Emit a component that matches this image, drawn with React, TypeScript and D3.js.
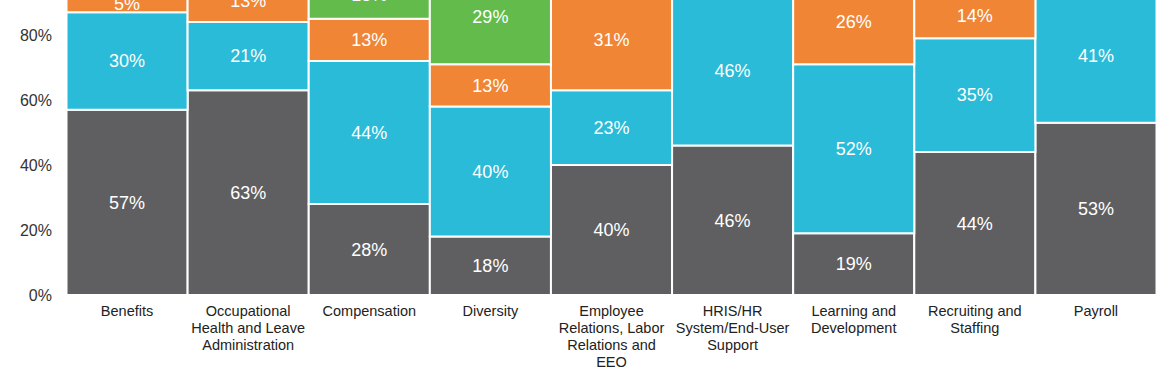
import React from "react";
import * as d3 from "d3";

const categories = [
  "Benefits",
  "Occupational\nHealth and Leave\nAdministration",
  "Compensation",
  "Diversity",
  "Employee\nRelations, Labor\nRelations and\nEEO",
  "HRIS/HR\nSystem/End-User\nSupport",
  "Learning and\nDevelopment",
  "Recruiting and\nStaffing",
  "Payroll",
];
const seriesKeys = ["dark", "cyan", "orange", "green"];
const darkValues = [57, 63, 28, 18, 40, 46, 19, 44, 53];
const cyanValues = [30, 21, 44, 40, 23, 46, 52, 35, 41];
const orangeValues = [5, 13, 13, 13, 31, 0, 26, 14, 0];
const greenValues = [8, 3, 15, 29, 6, 8, 3, 7, 6];
const yTicks = [0, 20, 40, 60, 80, 100];
const colors: Record<string, string> = {
  dark: "#5f5f61",
  cyan: "#29bbd7",
  orange: "#ef8535",
  green: "#62bb4a",
};

export default function App() {
  React.useEffect(() => {
    document.body.style.margin = "0";
  }, []);
  const W = 1175, H = 375;
  const x = d3.scaleBand<string>().domain(categories).range([66.5, 1156.5]).padding(0);
  const y = d3.scaleLinear().domain([0, 100]).range([295, -30]);
  const rows = categories.map((c, i) => ({
    cat: c,
    dark: darkValues[i],
    cyan: cyanValues[i],
    orange: orangeValues[i],
    green: greenValues[i],
  }));
  const stack = d3.stack<any>().keys(seriesKeys)(rows);
  const font = "'Liberation Sans', Arial, sans-serif";
  return (
    <svg width={W} height={H} style={{ display: "block", position: "absolute", left: 0, top: 0 }}>
      <rect width={W} height={H} fill="#fff" />
      {yTicks.map((t) => (
        <text key={t} x={52} y={y(t)} dy="0.35em" textAnchor="end" fontFamily={font} fontSize={16} fill="#333">
          {t}%
        </text>
      ))}
      {stack.map((s) => (
        <g key={s.key}>
          {s.map((d, i) => {
            const v = d[1] - d[0];
            if (v <= 0) return null;
            const x0 = x(categories[i])!;
            const bw = x.bandwidth();
            const y0 = y(d[1]);
            const h = y(d[0]) - y(d[1]);
            return (
              <g key={i}>
                <rect x={x0} y={y0} width={bw} height={h} fill={colors[s.key]} stroke="#fff" strokeWidth={2} />
                <text
                  x={x0 + bw / 2}
                  y={y0 + h / 2}
                  dy="0.35em"
                  textAnchor="middle"
                  fontFamily={font}
                  fontSize={18}
                  fill="#fff"
                >
                  {v}%
                </text>
              </g>
            );
          })}
        </g>
      ))}
      {categories.map((c) => (
        <text key={c} x={x(c)! + x.bandwidth() / 2} y={316} textAnchor="middle" fontFamily={font} fontSize={14.5} fill="#222">
          {c.split("\n").map((line, j) => (
            <tspan key={j} x={x(c)! + x.bandwidth() / 2} dy={j === 0 ? 0 : 17}>
              {line}
            </tspan>
          ))}
        </text>
      ))}
    </svg>
  );
}
